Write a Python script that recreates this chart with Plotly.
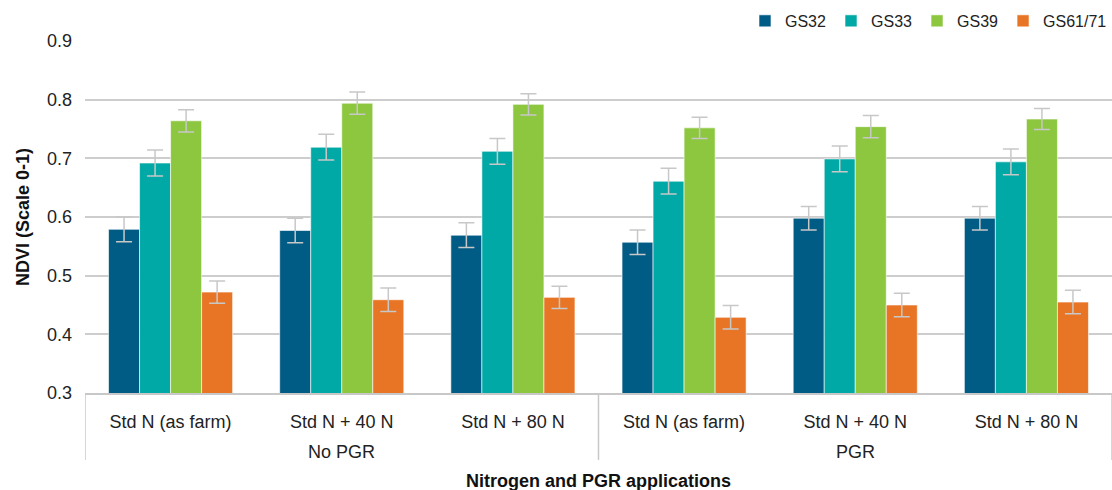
import plotly.graph_objects as go

groups = ["No PGR", "PGR"]
treatments = ["Std N (as farm)", "Std N + 40 N", "Std N + 80 N"]
categories = treatments * 2
series_names = ["GS32", "GS33", "GS39", "GS61/71"]

gs32 = [0.579, 0.577, 0.569, 0.557, 0.598, 0.598]
gs33 = [0.692, 0.719, 0.712, 0.661, 0.699, 0.694]
gs39 = [0.764, 0.794, 0.792, 0.752, 0.754, 0.767]
gs6171 = [0.472, 0.459, 0.463, 0.429, 0.450, 0.455]

err32 = [0.021, 0.021, 0.021, 0.021, 0.020, 0.020]
err33 = [0.022, 0.022, 0.022, 0.022, 0.022, 0.022]
err39 = [0.019, 0.019, 0.018, 0.018, 0.019, 0.018]
err6171 = [0.019, 0.020, 0.019, 0.020, 0.020, 0.020]

colors = ["#005B85", "#00A9A5", "#8DC63F", "#E87425"]

xpos = list(range(len(categories)))
n_per_group = len(treatments)

fig = go.Figure()
for name, vals, errs, col in zip(series_names, [gs32, gs33, gs39, gs6171],
                                 [err32, err33, err39, err6171], colors):
    fig.add_trace(go.Bar(
        name=name,
        x=xpos,
        y=vals,
        marker=dict(color=col, line=dict(color="white", width=0.6)),
        error_y=dict(type="data", array=errs, visible=True,
                     color="#C8C8C8", thickness=1.5, width=8),
    ))

FONT = "Liberation Sans, Arial, Helvetica, sans-serif"

# group labels and dividers under the category labels
annotations = []
shapes = []
for gi, g in enumerate(groups):
    centre = gi * n_per_group + (n_per_group - 1) / 2
    annotations.append(dict(text=g, x=centre, xref="x", y=-0.168, yref="paper",
                            showarrow=False, xanchor="center", yanchor="middle",
                            font=dict(size=18, color="#222222", family=FONT)))
for k in range(len(groups) + 1):
    xd = k * n_per_group - 0.5
    shapes.append(dict(type="line", x0=xd, x1=xd, xref="x", y0=0, y1=-0.19,
                       yref="paper", line=dict(color="#C8C8C8", width=1.5)))

annotations.append(dict(text="<b>Nitrogen and PGR applications</b>",
                        x=0.5, xref="paper", y=-0.25, yref="paper",
                        showarrow=False, xanchor="center", yanchor="middle",
                        font=dict(size=18, color="#111111", family=FONT)))

fig.update_layout(
    width=1112, height=490,
    barmode="group",
    bargap=0.275,
    bargroupgap=0,
    plot_bgcolor="white",
    paper_bgcolor="white",
    font=dict(family=FONT, color="#222222"),
    margin=dict(l=85, r=0, t=41, b=97, autoexpand=False),
    legend=dict(orientation="h", x=1.0, xanchor="right", y=1.057, yanchor="middle",
                font=dict(size=16, color="#222222"), itemwidth=30,
                traceorder="normal", bgcolor="rgba(0,0,0,0)"),
    xaxis=dict(
        range=[-0.5, len(categories) - 0.5],
        tickmode="array", tickvals=xpos, ticktext=categories,
        showline=True, linecolor="#C8C8C8", linewidth=1.5,
        showgrid=False, zeroline=False,
        tickfont=dict(size=18, color="#222222"),
        ticklabelstandoff=12,
        automargin=False,
    ),
    yaxis=dict(
        range=[0.3, 0.9],
        dtick=0.1,
        tickformat=".1f",
        showgrid=True, gridcolor="#CDCDCD", gridwidth=1.5,
        zeroline=False,
        tickfont=dict(size=18, color="#222222"),
        ticklabelstandoff=12,
        title=dict(text="<b>NDVI (Scale 0-1)</b>",
                   font=dict(size=18, color="#111111"), standoff=12),
        automargin=False,
    ),
    annotations=annotations,
    shapes=shapes,
)

fig.write_html("out.html", config={"displayModeBar": False},
               post_script="document.body.style.margin='0px';")
